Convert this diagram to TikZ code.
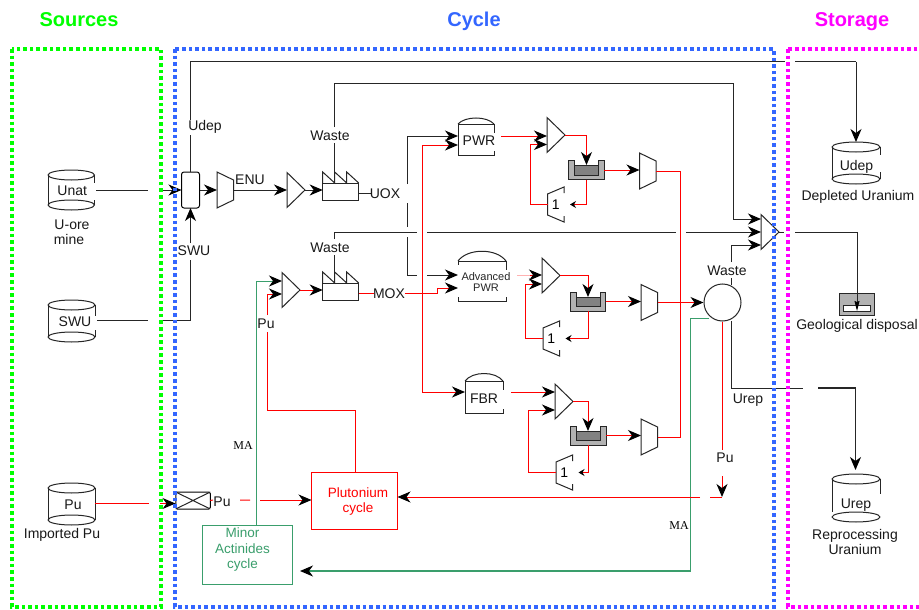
\documentclass[tikz,border=0pt]{standalone}
\usepackage{fontspec}
\setmainfont{Liberation Sans}
\newfontfamily\serifmark{Liberation Serif}
\usetikzlibrary{arrows.meta,calc}
\definecolor{sgreen}{RGB}{58,158,108}
\definecolor{fblue}{RGB}{51,102,255}
\definecolor{fmag}{RGB}{255,0,255}
\definecolor{fgreen}{RGB}{0,255,0}
\definecolor{rline}{RGB}{255,0,0}
\definecolor{tankout}{RGB}{178,178,178}
\definecolor{tankin}{RGB}{130,130,130}
\tikzset{
  anchorbox/.style={inner sep=0pt,outer sep=0pt,minimum width=#1},
  shp/.style={draw=black!85,line width=1pt,line join=miter},
  blk/.style={draw=black!85,line width=1pt},
  rdl/.style={draw=rline,line width=1pt},
  grn/.style={draw=sgreen,line width=1pt},
  arr/.style={-{Stealth[length=13pt,width=11pt,inset=4pt,color=black,fill=black]}},
  arrs/.style={-{Stealth[length=6pt,width=7pt,inset=2pt,color=black,fill=black]}},
  arrn/.style={-{Stealth[length=10pt,width=5pt,inset=1pt,color=black,fill=black]}},
  lbl/.style={font=\fontsize{14}{16}\selectfont,inner sep=0pt,text=black!90,anchor=base,yshift=-5pt},
  small/.style={font=\fontsize{11}{12.5}\selectfont,inner sep=0pt,text=black!85,align=center},
  ma/.style={font=\serifmark\fontsize{12}{14}\selectfont,inner sep=0pt,text=black},
  ttl/.style={font=\bfseries\fontsize{20}{24}\selectfont,inner sep=0pt,anchor=base,yshift=-7pt},
  plab/.style={font=\fontsize{13.5}{15.5}\selectfont,inner sep=0pt,text=rline,anchor=base,yshift=-5pt},
  glab/.style={font=\fontsize{13.5}{15.5}\selectfont,inner sep=0pt,text=sgreen,anchor=base,yshift=-5pt},
  frm/.style={line width=3.6pt,dash pattern=on 3.6pt off 3pt},
}
% triangle: name, left x, tip y
\newcommand\Tri[3]{\node[anchorbox=18pt,minimum height=35pt,anchor=west] (#1) at (#2,#3) {};
  \draw[shp,fill=white] (#1.north west) -- (#1.east) -- (#1.south west) -- cycle;}
% trapezoid, tall side left
\newcommand\TrapR[3]{\node[anchorbox=16.5pt,minimum height=36pt,anchor=west] (#1) at (#2,#3) {};
  \draw[shp,fill=white] (#1.north west) -- ($(#1.north east)+(0,8)$) -- ($(#1.south east)+(0,-8)$) -- (#1.south west) -- cycle;}
% trapezoid, tall side right, with its number
\newcommand\TrapL[3]{\node[anchorbox=16.5pt,minimum height=35pt,anchor=west,font=\fontsize{14}{16}\selectfont] (#1) at (#2,#3) {1};
  \draw[shp] ($(#1.north east)+(0,6)$) -- (#1.north east) -- ($(#1.north west)+(0,7)$) -- ($(#1.south west)+(0,-7)$) -- (#1.south east) -- ($(#1.south east)+(0,-6)$);}
% factory: name, left x, top y of teeth
\newcommand\Factory[3]{\node[anchorbox=36pt,minimum height=28pt,anchor=north west] (#1) at (#2,#3) {};
  \draw[shp,fill=white] (#2,#3+11) rectangle (#2+36,#3+28);
  \draw[shp] (#2,#3+11) -- (#2,#3) -- (#2+12,#3+11) -- (#2+12,#3) -- (#2+24,#3+11) -- (#2+24,#3) -- (#2+36,#3+11);}
% cylinder: name, left x, width, top ellipse y, bottom ellipse y, text, right upper end, right lower start, left end
\newcommand\Cyl[9]{\node[lbl] (#1) at (#2+#3/2+1,{(#4+#5)/2}) {#6};
  \draw[shp] (#2+#3/2,#4) ellipse [x radius=#3/2,y radius=5];
  \draw[shp] (#2+#3/2,#5) ellipse [x radius=#3/2,y radius=5];
  \draw[shp] (#2,#4) -- (#2,#9) (#2+#3,#4) -- (#2+#3,#7) (#2+#3,#8) -- (#2+#3,#5);}
% reactor: name, left x, width, dome top, body top, bottom, text, font style, left break
\newcommand\Reactor[9]{\node[#8] (#1) at (#2+#3/2,{(#5+#6)/2+1}) {#7};
  \draw[shp] (#2,#5) -- (#2+#3,#5);
  \draw[shp] (#2,#5) .. controls (#2+#3*.2,#4-1) and (#2+#3*.8,#4-1) .. (#2+#3,#5);
  \draw[shp] (#2,#5) -- (#2,#9) (#2,#6-4) |- (#2+#3,#6) -- (#2+#3,#6-4);
  \draw[shp] (#2+#3,#5) -- (#2+#3,#5+9);}
% tank: name, left x, top y
\newcommand\Tank[3]{\node[anchorbox=35.5pt,minimum height=19pt,anchor=north west] (#1) at (#2,#3) {};
  \draw[shp,fill=tankout] (#2,#3) -- (#2+6,#3) -- (#2+6,#3+14.5) -- (#2+30,#3+14.5) -- (#2+30,#3) -- (#2+35.5,#3) -- (#2+35.5,#3+19) -- (#2,#3+19) -- cycle;
  \draw[shp,fill=tankin] (#2+6,#3+5) rectangle (#2+30,#3+14.5);}
\begin{document}
\begin{tikzpicture}[x=1pt,y=-1pt]
\useasboundingbox (0,0) rectangle (919,610);
\fill[white] (0,0) rectangle (919,610);
% titles
\node[ttl,text=fgreen] (tSources) at (79,20) {Sources};
\node[ttl,text=fblue] (tCycle) at (474,20) {Cycle};
\node[ttl,text=fmag] (tStorage) at (852,20) {Storage};
% sources
\Cyl{unat}{48}{46.5}{175}{205}{Unat}{183}{200}{205}
\node[lbl] (unatL) at (72,224) {U-ore};
\node[lbl] (unatM) at (69,239) {mine};
\Cyl{swu}{48}{47}{305}{337}{\hspace*{5pt}SWU}{316}{330}{337}
\Cyl{pu}{48}{47}{488}{520}{\hspace*{1pt}Pu}{520}{520}{520}
\node[lbl] (puL) at (62,533) {Imported Pu};
% storage
\Cyl{udep}{832}{48}{147}{179}{}{155}{172}{179}
\node[lbl] (udepT) at (856.5,165) {Udep};
\node[lbl] (udepL) at (858,195) {Depleted Uranium};
\Cyl{urep}{832}{48}{479}{517}{}{494}{517}{512}
\node[lbl] (urepT) at (856,503) {Urep};
\node[lbl] (urepL) at (855,534) {Reprocessing};
\node[lbl] (urepM) at (855,549) {Uranium};
\node[anchorbox=35pt,minimum height=22pt,anchor=north west] (geo) at (839,293) {};
\draw[shp,fill=tankout] (839,293) rectangle (874,315);
\draw[shp,fill=white] (843,305) rectangle (870,311);
\node[lbl] (geoL) at (857,324) {Geological disposal};
% front end
\node[anchorbox=18pt,minimum height=36pt,draw=black,line width=1pt,rounded corners=2.5pt,fill=white] (mix) at (190.5,190) {};
\TrapR{enr}{217}{190}
\node[lbl] (enuL) at (250,179) {ENU};
\Tri{fab}{287}{190}
\Factory{facA}{322.7}{172}
\Tri{fabB}{282}{290}
\Factory{facB}{322.7}{272}
% reactors
\Reactor{pwr}{458}{36}{117}{124}{155}{PWR}{lbl,xshift=3pt}{155}
\Reactor{apwr}{458}{48}{249}{261}{301}{\shortstack{Advanced\\PWR}}{small,xshift=4pt}{265}
\Reactor{fbr}{465}{38}{372}{381}{413}{FBR}{lbl}{413}
% line one
\Tri{tA}{547}{135}
\Tank{tkA}{568.7}{160.5}
\TrapR{dA}{639.5}{171}
\TrapL{rA}{547.5}{204.5}
% line two
\Tri{tB}{542}{275.5}
\Tank{tkB}{570}{292}
\TrapR{dB}{641}{302.5}
\TrapL{rB}{543}{338.5}
% line three
\Tri{tC}{555}{401.5}
\Tank{tkC}{570.7}{426}
\TrapR{dC}{641}{437}
\TrapL{rC}{556}{472.5}
% waste collector, reprocessing
\Tri{col}{761}{232}
\node[circle,draw=black!85,line width=1pt,minimum size=37pt,inner sep=0pt] (sep) at (722.5,302.5) {};
% cycles
\node[rdl,minimum width=86pt,minimum height=57pt,inner sep=0pt] (puc) at (354.5,500.5) {};
\node[plab] (pucA) at (358,492.5) {Plutonium};
\node[plab] (pucB) at (358,507.5) {cycle};
\node[grn,minimum width=90pt,minimum height=59pt,inner sep=0pt] (mac) at (247,554.5) {};
\node[glab] (macA) at (242.5,532) {Minor};
\node[glab] (macB) at (242.5,548) {Actinides};
\node[glab] (macC) at (242.5,563) {cycle};
% import valve
\node[anchorbox=34.5pt,minimum height=17pt,draw=black,line width=1pt,rounded corners=1.5pt] (valve) at (193,500.5) {};
\draw[shp] (valve.north west) -- (valve.south east) (valve.south west) -- (valve.north east);
% free ends of the broken connectors
\coordinate (a1) at (96,190); \coordinate (a2) at (148,190); \coordinate (a3) at (160,190);
\coordinate (b1) at (97,320.5); \coordinate (b2) at (148,320.5); \coordinate (b3) at (160,320.5); \coordinate (b4) at (190.5,260); \coordinate (b5) at (190.5,243);
\coordinate (c1) at (95,503.5); \coordinate (c2) at (149,503.5); \coordinate (c3) at (160,503.5); \coordinate (c4) at (175.5,503.5);
\coordinate (d1) at (190.5,135); \coordinate (d2) at (190.5,120); \coordinate (d3) at (190.5,62); \coordinate (d4) at (785,62); \coordinate (d5) at (795,62); \coordinate (d6) at (856,62);
% black connectors
\draw[blk] (a1) -- (a2);
\draw[blk,arr] (a3) -- (mix.west);
\draw[blk] (b1) -- (b2) (b3) -| (b4);
\draw[blk,arr] (b5) -- (mix.south);
\draw[blk] (mix.north) -- (d1) (d2) -- (d3) -- (d4) (d5) -- (d6);
\draw[blk,arr] (d6) -- (d6 |- 0,142);
\node[lbl] (udepA) at (205,125) {Udep};
\node[lbl] (swuA) at (194,250) {SWU};
\draw[blk,arr] (mix.east) -- (enr.west);
\draw[blk,arr] (enr.east |- 0,190) -- (fab.west);
\draw[blk,arr] (fab.east) -- (facA.west |- 0,190);
% wastes
\coordinate (wA) at (334,172); \coordinate (wAl) at (334,143); \coordinate (wAh) at (334,127); \coordinate (wAt) at (334,84); \coordinate (wAr) at (733,84); \coordinate (wAe) at (733,219);
\node[lbl] (wasteA) at (330,135) {Waste};
\draw[blk] (wA) -- (wAl) (wAh) -- (wAt) -- (wAr) -- (wAe);
\draw[blk,arr] (wAe) -- (col.west |- wAe);
\coordinate (wB) at (334,272); \coordinate (wBl) at (334,255); \coordinate (wBh) at (334,239); \coordinate (wBt) at (334,232);
\coordinate (g1) at (417,232); \coordinate (g2) at (427,232); \coordinate (g3) at (676,232); \coordinate (g4) at (686,232);
\node[lbl] (wasteB) at (330,247) {Waste};
\draw[blk] (wB) -- (wBl) (wBh) -- (wBt) -- (g1) (g2) -- (g3);
\draw[blk,arr] (g4) -- (col.west);
\coordinate (wC) at (731,285); \coordinate (wCh) at (731,278); \coordinate (wCm) at (731,262); \coordinate (wCt) at (731,245);
\node[lbl] (wasteC) at (727,270) {Waste};
\draw[blk] (wC) -- (wCh);
\draw[blk,arr] (wCm) -- (wCt) -- (col.west |- wCt);
% to geological disposal
\coordinate (h1) at (784,232); \coordinate (h2) at (795,232); \coordinate (h3) at (857,232);
\draw[blk] (col.east) -- (h1) (h2) -- (h3);
\draw[blk,arrn] (h3) -- (h3 |- 0,311);
% UOX
\coordinate (uA) at (371,193); \coordinate (uB) at (407.5,184); \coordinate (uC) at (407.5,203); \coordinate (uD) at (407.5,227); \coordinate (uE) at (407.5,237); \coordinate (uF) at (407.5,275); \coordinate (uG) at (417,275); \coordinate (uH) at (427,275); \coordinate (uT) at (407.5,136);
\coordinate (pwrIn) at (458,136); \coordinate (apwrIn) at (458,275);
\draw[blk] (facA.east |- uA) -- (uA);
\node[lbl] (uoxL) at (385,193) {UOX};
\draw[blk,arr] (uB) -- (uT) -- (pwrIn);
\draw[blk] (uC) -- (uD) (uE) -- (uF) -- (uG);
\draw[blk,arr] (uH) -- (apwrIn);
% Urep
\coordinate (rA1) at (731,321); \coordinate (rA2) at (731,388); \coordinate (rA3) at (803,388); \coordinate (rA4) at (818,388); \coordinate (rA5) at (855.5,388);
\draw[blk] (rA1) -- (rA2) -- (rA3);
\draw[blk,line width=1.2pt,arr] (rA4) -- (rA5) -- (rA5 |- 0,470);
\node[lbl] (urepR) at (748,398) {Urep};
% MOX feed
\coordinate (mA) at (374,293); \coordinate (mB) at (405,293); \coordinate (mC) at (437,293); \coordinate (mD) at (437,288); \coordinate (apwrInB) at (458,288);
\draw[rdl] (facB.east |- mA) -- (mA);
\node[lbl] (moxL) at (389,293) {MOX};
\draw[rdl,arr] (mB) -- (mC) -- (mD) -- (apwrInB);
\coordinate (mE) at (422,145); \coordinate (mF) at (422,392); \coordinate (pwrInB) at (458,145); \coordinate (fbrIn) at (465,392);
\draw[rdl,arr] (mF) -- (mE) -- (pwrInB);
\draw[rdl,arr] (mF) -- (fbrIn);
% Pu to fabrication
\coordinate (pA) at (355,410); \coordinate (pB) at (267,410); \coordinate (pC) at (267,332); \coordinate (pD) at (267,315); \coordinate (pE) at (267,294);
\draw[rdl] (puc.north -| pA) -- (pA) -- (pB) -- (pC);
\node[lbl] (puF) at (266,323) {Pu};
\draw[rdl,arr] (pD) -- (pE) -- (fabB.west |- pE);
\coordinate (gA) at (256.6,281);
\draw[grn,arr] (mac.north -| gA) -- (gA) -- (fabB.west |- gA);
\node[ma] (maA) at (243,446) {MA};
\draw[rdl,arr] (fabB.east) -- (facB.west |- 0,290);
% line one
\coordinate (oA) at (501,136); \coordinate (oB) at (586.5,135); \coordinate (oC) at (530,144.5); \coordinate (oD) at (530,204.5); \coordinate (oE) at (586.5,204.5);
\draw[rdl,arr] (oA) -- (tA.west |- oA);
\draw[rdl,arr] (tA.east) -- (oB) -- (oB |- 0,165);
\draw[rdl,arr] (tkA.east) -- (dA.west |- tkA.east);
\draw[rdl,arrs] (tkA.south -| oE) -- (oE) -- ($(rA.east)+(6,0)$);
\draw[rdl] (rA.west) -- (oD);
\draw[rdl,arr] (oD) -- (oC) -- (tA.west |- oC);
% line two
\coordinate (qA) at (517,275); \coordinate (qA2) at (530,275); \coordinate (qB) at (588,275.5); \coordinate (qC) at (525,284); \coordinate (qD) at (525,338.5); \coordinate (qE) at (588,338.5);
\draw[rline!30,line width=.8pt] (qA) -- (qA2);
\draw[rdl,arr] (qA2) -- (tB.west |- qA2);
\draw[rdl,arr] (tB.east) -- (qB) -- (qB |- 0,297);
\draw[rdl,arr] (tkB.east) -- (dB.west |- tkB.east);
\draw[rdl,arrs] (tkB.south -| qE) -- (qE) -- ($(rB.east)+(6,0)$);
\draw[rdl] (rB.west) -- (qD);
\draw[rdl,arr] (qD) -- (qC) -- (tB.west |- qC);
% line three
\coordinate (sA) at (511,392); \coordinate (sB) at (588,401.5); \coordinate (sC) at (528,410); \coordinate (sD) at (528,472.5); \coordinate (sE) at (588,472.5);
\draw[rdl,arr] (sA) -- (tC.west |- sA);
\draw[rdl,arr] (tC.east) -- (sB) -- (sB |- 0,431);
\draw[rdl,arr] (tkC.east) -- (dC.west |- tkC.east);
\draw[rdl,arrs] (tkC.south -| sE) -- (sE) -- ($(rC.east)+(6,0)$);
\draw[rdl] (rC.west) -- (sD);
\draw[rdl,arr] (sD) -- (sC) -- (tC.west |- sC);
% spent fuel to separation
\coordinate (kA) at (680,171); \coordinate (kB) at (680,437);
\draw[rdl] (dA.east) -- (kA) -- (kB) -- (dC.east);
\draw[rdl,arr] (dB.east) -- (sep.west);
% MA return
\coordinate (nA) at (690.7,318); \coordinate (nB) at (690.7,571); \coordinate (nC) at (300,571);
\draw[grn] (sep.south west |- nA) -- (nA) -- (nB);
\draw[grn,line width=1.2pt,arr] (nB) -- (nC);
\node[ma] (maB) at (679,526) {MA};
% Pu return
\coordinate (vA) at (722,450); \coordinate (vB) at (722,476); \coordinate (vC) at (722,497); \coordinate (vD) at (710,497); \coordinate (vE) at (700,497); \coordinate (vF) at (397.5,497);
\draw[rdl] (sep.south -| vA) -- (vA);
\node[lbl] (puR) at (725,457) {Pu};
\draw[rdl,arr] (vB) -- (vC);
\draw[rdl] (vC) -- (vD);
\draw[rdl,arr] (vE) -- (vF);
% imported Pu
\draw[rdl] (c1) -- (c2);
\draw[rdl,arr] (c3) -- (c4);
\coordinate (xA) at (213,500); \coordinate (xB) at (240,500); \coordinate (xC) at (250,500); \coordinate (xD) at (260,500); \coordinate (xE) at (311.5,500);
\draw[rdl] (valve.east) -- (xA) (xB) -- (xC);
\node[lbl] (puV) at (222,501) {Pu};
\draw[rdl,arr] (xD) -- (xE);
% frames
\draw[frm,fgreen] (12,49) rectangle (161,607);
\draw[frm,fblue] (175,49) rectangle (774,607);
\draw[frm,fmag] (788,49) rectangle (925,607);
\end{tikzpicture}
\end{document}
